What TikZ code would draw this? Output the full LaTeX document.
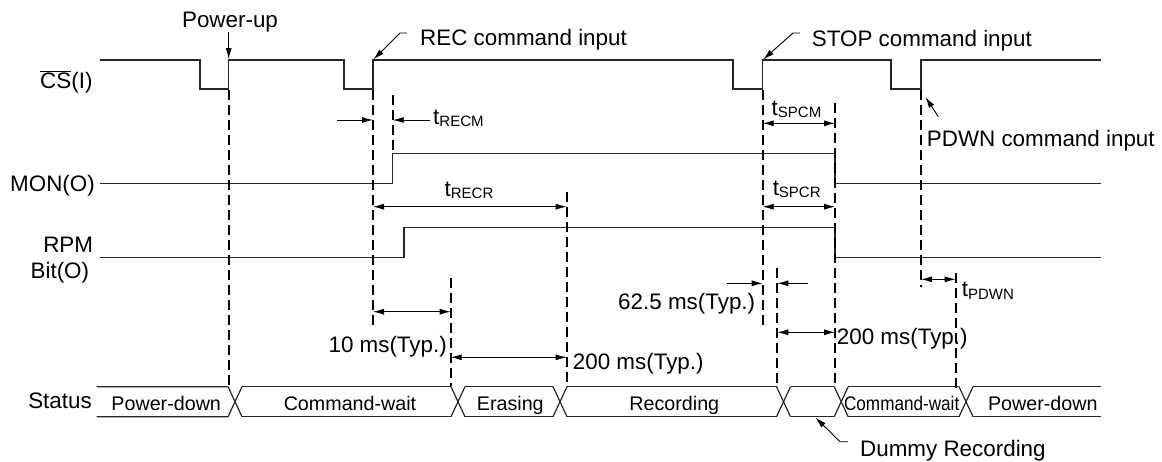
\documentclass[tikz,border=0pt]{standalone}
\usepackage{fontspec}
\setmainfont{Liberation Sans}
\usetikzlibrary{arrows.meta}
\begin{document}
\begin{tikzpicture}[x=1pt,y=-1pt,
  sig/.style={line width=1.4pt, draw=black!85, line join=miter},
  guide/.style={line width=2.2pt, dash pattern=on 10pt off 5pt},
  dim/.style={line width=0.9pt, {Latex[length=11pt,width=6pt]}-{Latex[length=11pt,width=6pt]}},
  ar/.style={line width=0.9pt, -{Latex[length=11pt,width=6pt]}},
  lbl/.style={font=\fontsize{22.4}{26}\selectfont, inner sep=0pt},
  st/.style={font=\fontsize{19.7}{22}\selectfont, inner sep=0pt, anchor=base},
  bus/.style={line width=1.2pt, draw=black!85},
]
\useasboundingbox (0,0) rectangle (1162,461);
\newcommand{\tsub}[1]{t\raisebox{-2.5pt}{\fontsize{15}{15}\selectfont #1}}

% signal labels
\node[lbl, anchor=base west] (cslbl) at (40,88.3) {$\overline{\hbox{CS}}$(I)};
\node[lbl, anchor=base east] (monlbl) at (95,191.7) {MON(O)};
\node[lbl, anchor=base east] (rpmlbl) at (93.3,252.3) {RPM};
\node[lbl, anchor=base east] (bitlbl) at (89.3,278.3) {Bit(O)};
\node[lbl, anchor=base east] (statlbl) at (92,408.3) {Status};

% waveforms
\draw[sig] (100,60) -- (200,60) -- (200,89) -- (228.7,89) -- (228.7,60) -- (344,60) -- (344,89) -- (373,89) -- (373,60)
  -- (733,60) -- (733,89) -- (762.7,89) -- (762.7,60) -- (891,60) -- (891,89) -- (921,89) -- (921,60) -- (1100.7,60);
\draw[sig] (100,183.7) -- (392.7,183.7) -- (392.7,153.3) -- (835,153.3) -- (835,183.7) -- (1100.7,183.7);
\draw[sig] (100,257.7) -- (404,257.7) -- (404,227.7) -- (835,227.7) -- (835,257.7) -- (1100.7,257.7);

% dashed guides
\draw[guide] (228.7,90) -- (228.7,386);
\draw[guide] (373,90) -- (373,326);
\draw[guide] (392.7,95) -- (392.7,153);
\draw[guide] (450.7,278) -- (450.7,386);
\draw[guide] (566.7,192) -- (566.7,386);
\draw[guide] (762.7,90) -- (762.7,327);
\draw[guide] (777.3,268) -- (777.3,386);
\draw[guide] (835,103) -- (835,386);
\draw[guide] (921,90) -- (921,287);
\draw[guide] (955.7,273) -- (955.7,392);

% status bus
\def\bt{386.7}\def\bb{416.7}\def\bm{401.7}
\draw[bus] (96.7,\bt) -- (228,\bt) -- (242,\bb);
\draw[bus] (96.7,\bb) -- (228,\bb) -- (242,\bt);
\foreach \a/\b in {242/451, 465/553.3, 566.7/776.5, 790.5/834.2, 848.2/959, 973/1100.7}{
  \draw[bus] (\a,\bt) -- (\b,\bt);
  \draw[bus] (\a,\bb) -- (\b,\bb);
}
\foreach \c in {458,560,783.5,841.2,966}{
  \draw[bus] (\c-7,\bt) -- (\c+7,\bb);
  \draw[bus] (\c-7,\bb) -- (\c+7,\bt);
}
\node[st] (s1) at (166.2,410) {Power-down};
\node[st] (s2) at (350,410) {Command-wait};
\node[st] (s3) at (510.3,410) {Erasing};
\node[st] (s4) at (674.3,410) {Recording};
\node[st] (s5) at (901.7,410) {\scalebox{0.87}[1]{Command-wait}};
\node[st] (s6) at (1042.8,410) {Power-down};

% annotations
\node[lbl, anchor=base] (pu) at (230,27.3) {Power-up};
\draw[ar] (228.7,32) -- (228.7,59);
\node[lbl, anchor=base west] (rec) at (420,45.7) {REC command input};
\draw[ar] (407,33) -- (400,33) -- (373.5,59.5);
\node[lbl, anchor=base west] (stop) at (811.7,46.7) {STOP command input};
\draw[ar] (800,33) -- (793,33) -- (763.2,59.5);
\node[lbl, anchor=base west] (pdwn) at (926.7,146.7) {PDWN command input};
\draw[ar] (938.3,116.7) -- (925.5,97);

\draw[ar] (336.7,120) -- (373,120);
\draw[ar] (430,120) -- (392.7,120);
\node[lbl, anchor=base west] (trecm) at (433,124) {\tsub{RECM}};

\draw[dim] (762.7,123.3) -- (835,123.3);
\node[lbl, anchor=base] (tspcm) at (796.5,115) {\tsub{SPCM}};

\draw[dim] (373,206.7) -- (566.7,206.7);
\node[lbl, anchor=base] (trecr) at (469,196) {\tsub{RECR}};

\draw[dim] (762.7,206.7) -- (835,206.7);
\node[lbl, anchor=base] (tspcr) at (796.7,195) {\tsub{SPCR}};

\draw[ar] (726.7,283.3) -- (762.7,283.3);
\draw[ar] (808,283.3) -- (777.3,283.3);
\node[lbl, anchor=base] (t625) at (686.7,309) {62.5 ms(Typ.)};

\draw[dim] (921,279.3) -- (955.7,279.3);
\node[lbl, anchor=base west] (tpdwn) at (961.7,296.7) {\tsub{PDWN}};

\draw[dim] (373,311.7) -- (450.7,311.7);
\node[lbl, anchor=base east] (t10) at (447,352.7) {10 ms(Typ.)};

\draw[dim] (450.7,357.3) -- (566.7,357.3);
\node[lbl, anchor=base west] (t200a) at (572.7,369.3) {200 ms(Typ.)};

\draw[dim] (777.3,332.3) -- (835,332.3);
\node[lbl, anchor=base west] (t200b) at (836.7,344.3) {200 ms(Typ.)};

\node[lbl, anchor=base west] (dummy) at (860,456.7) {Dummy Recording};
\draw[ar] (848,441.7) -- (840,441.7) -- (815.5,417.5);
\end{tikzpicture}
\end{document}
